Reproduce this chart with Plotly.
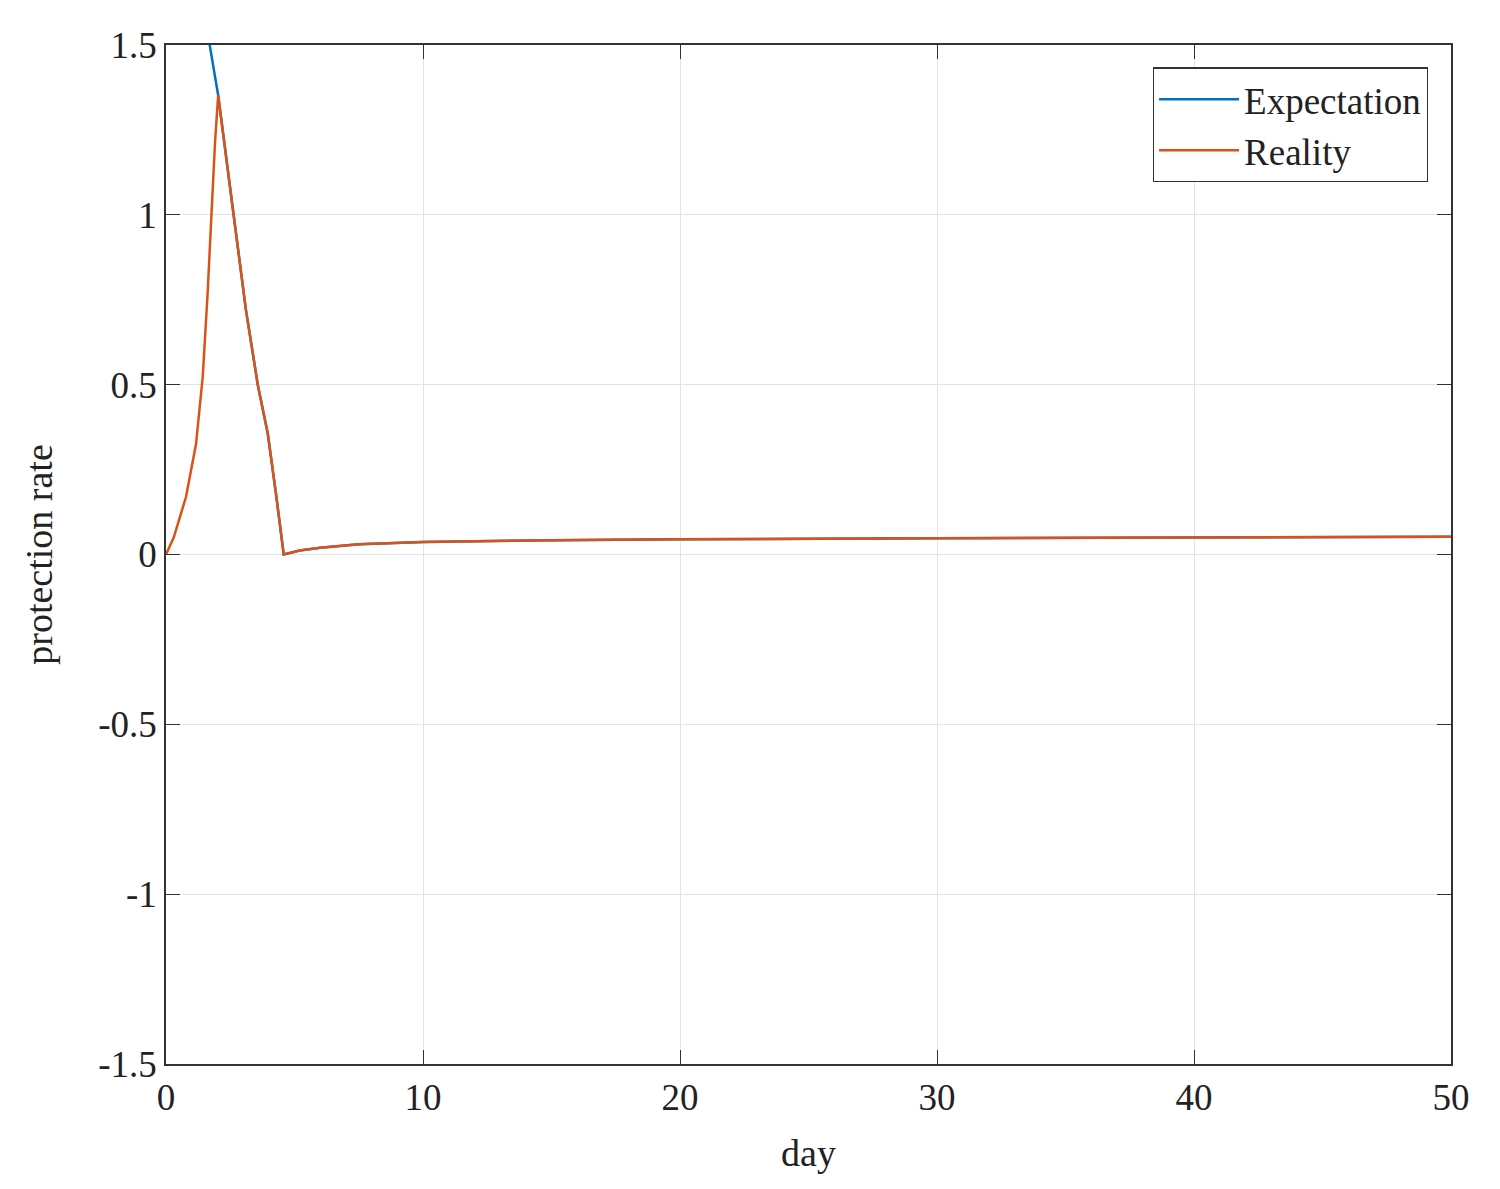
import plotly.graph_objects as go

day_real = [0, 0.3, 0.78, 1.17, 1.43, 1.62, 1.78, 1.91, 2.03, 2.6, 3.11, 3.57, 3.96, 4.28, 4.58,
            5.2, 6, 7.5, 10, 15, 20, 30, 40, 50]
val_real = [0, 0.05, 0.17, 0.326, 0.524, 0.77, 1.018, 1.216, 1.352, 1.018, 0.72, 0.5, 0.356, 0.178, 0,
            0.012, 0.02, 0.03, 0.037, 0.042, 0.045, 0.048, 0.05, 0.052]
day_exp = [1.6] + day_real[8:]
val_exp = [1.545] + val_real[8:]

fig = go.Figure()
fig.add_trace(go.Scatter(x=day_exp, y=val_exp, mode="lines", name="Expectation",
                         line=dict(color="#0072BD", width=2.5)))
fig.add_trace(go.Scatter(x=day_real, y=val_real, mode="lines", name="Reality",
                         line=dict(color="#D95319", width=2.5)))
ax = dict(showline=True, linecolor="#333", linewidth=1.5, mirror="ticks", ticks="inside",
          ticklen=14, tickcolor="#333", showgrid=True, gridcolor="#e3e3e3", zeroline=False,
          tickfont=dict(size=37, color="#222"))
fig.update_layout(
    width=1500, height=1189, plot_bgcolor="white", paper_bgcolor="white",
    font=dict(family="Liberation Serif, DejaVu Serif, serif", color="#222"),
    margin=dict(l=158, r=57, t=37, b=133),
    xaxis=dict(range=[0, 50], dtick=10, title=dict(text="day", font=dict(size=38), standoff=22), **ax),
    yaxis=dict(range=[-1.5, 1.5], title=dict(text="protection rate", font=dict(size=38), standoff=34), **ax),
    legend=dict(x=0.982, y=0.978, xanchor="right", yanchor="top", bordercolor="#333", borderwidth=1.2,
                bgcolor="white", font=dict(size=37), itemwidth=80),
    showlegend=True,
)
fig.update_yaxes(tickvals=[-1.5, -1, -0.5, 0, 0.5, 1, 1.5], ticktext=["-1.5", "-1", "-0.5", "0", "0.5", "1", "1.5"])
fig.write_html("out.html")
